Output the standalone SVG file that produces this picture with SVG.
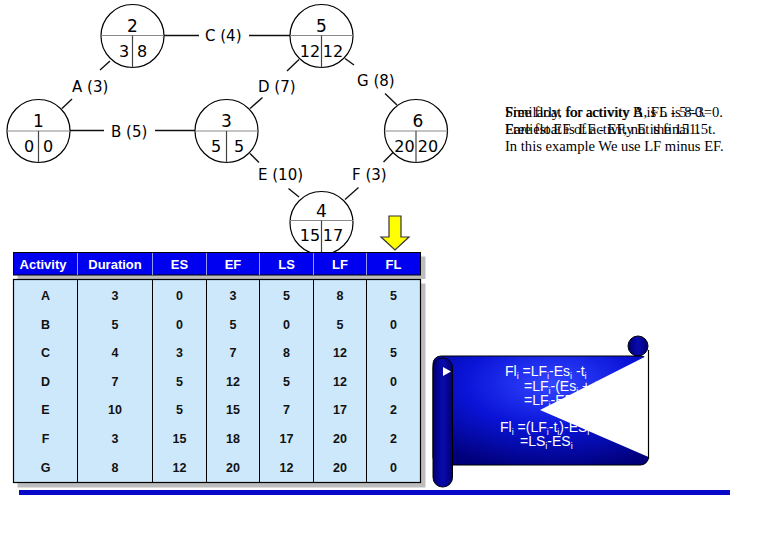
<svg xmlns="http://www.w3.org/2000/svg" width="780" height="540" viewBox="0 0 780 540">
<defs>
<style>
.nc{fill:#fff;stroke:#000;stroke-width:1.2}
.hl{stroke:#8a8a8a;stroke-width:1.2}
.vl{stroke:#444;stroke-width:1.2}
.nt{font-family:"DejaVu Sans",Verdana,sans-serif;font-size:17px;fill:#000;text-anchor:middle}
.nb{font-family:"DejaVu Sans",Verdana,sans-serif;font-size:16px;fill:#000;text-anchor:middle}
.cl{stroke:#111;stroke-width:1.4;fill:none}
.lb{font-family:"DejaVu Sans",Verdana,sans-serif;font-size:15px;fill:#000}
.th{font-family:"Liberation Sans",Arial,sans-serif;font-size:13px;font-weight:bold;fill:#fff;text-anchor:middle}
.td{font-family:"Liberation Sans",Arial,sans-serif;font-size:12.5px;font-weight:bold;fill:#111;text-anchor:middle}
.ser{font-family:"Liberation Serif","Times New Roman",serif;font-size:14.6px;fill:#000}
.sc{font-family:"Liberation Sans Narrow","Liberation Sans",Arial,sans-serif;font-size:14px;fill:#fff}
.sub{font-size:9px}
</style>
<radialGradient id="sg" cx="0.55" cy="0.25" r="0.8">
<stop offset="0" stop-color="#3346ff"/>
<stop offset="0.5" stop-color="#0a14d8"/>
<stop offset="1" stop-color="#00007a"/>
</radialGradient>
<linearGradient id="rg" x1="0" y1="0" x2="1" y2="0">
<stop offset="0" stop-color="#000070"/>
<stop offset="0.5" stop-color="#0a0ab0"/>
<stop offset="1" stop-color="#000070"/>
</linearGradient>
</defs>
<rect width="780" height="540" fill="#fff"/>

<g id="connectors">
<line class="cl" x1="62" y1="108.5" x2="72" y2="99"/>
<line class="cl" x1="100" y1="70" x2="110" y2="61"/>
<text class="lb" x="72" y="92">A (3)</text>
<line class="cl" x1="163" y1="35.5" x2="199" y2="35.5"/>
<line class="cl" x1="249" y1="35.5" x2="290" y2="35.5"/>
<text class="lb" x="205" y="41">C (4)</text>
<line class="cl" x1="70" y1="130.5" x2="104" y2="130.5"/>
<line class="cl" x1="155" y1="130.5" x2="195" y2="130.5"/>
<text class="lb" x="111" y="137">B (5)</text>
<line class="cl" x1="250" y1="108.5" x2="262.5" y2="97.5"/>
<line class="cl" x1="287" y1="71" x2="299" y2="59.5"/>
<text class="lb" x="258" y="92">D (7)</text>
<line class="cl" x1="345" y1="58.5" x2="354" y2="65"/>
<line class="cl" x1="385" y1="93.5" x2="397" y2="105"/>
<text class="lb" x="357" y="86">G (8)</text>
<line class="cl" x1="250" y1="153.5" x2="259" y2="162.5"/>
<line class="cl" x1="288.5" y1="188.5" x2="299" y2="197"/>
<text class="lb" x="258" y="180">E (10)</text>
<line class="cl" x1="345" y1="199.5" x2="358.5" y2="187.5"/>
<line class="cl" x1="383.5" y1="162" x2="393.5" y2="152"/>
<text class="lb" x="352" y="180">F (3)</text>
</g>

<g id="node1">
<circle class="nc" cx="38.5" cy="131" r="31.5"/>
<line class="hl" x1="7" y1="131" x2="70" y2="131"/>
<line class="vl" x1="38.5" y1="131" x2="38.5" y2="162.5"/>
<text class="nt" x="38.5" y="127">1</text>
<text class="nb" x="29" y="152">0</text>
<text class="nb" x="48" y="152">0</text>
</g>
<g id="node2">
<circle class="nc" cx="132.5" cy="36" r="31.5"/>
<line class="hl" x1="101" y1="35.5" x2="164" y2="35.5"/>
<line class="vl" x1="132.5" y1="35.5" x2="132.5" y2="67.5"/>
<text class="nt" x="132.5" y="32">2</text>
<text class="nb" x="124" y="56.5">3</text>
<text class="nb" x="142" y="56.5">8</text>
</g>
<g id="node5">
<circle class="nc" cx="321.5" cy="36" r="31.5"/>
<line class="hl" x1="290" y1="35.5" x2="353" y2="35.5"/>
<line class="vl" x1="321.5" y1="35.5" x2="321.5" y2="67.5"/>
<text class="nt" x="321.5" y="32">5</text>
<text class="nb" x="310" y="56.5">12</text>
<text class="nb" x="333" y="56.5">12</text>
</g>
<g id="node3">
<circle class="nc" cx="226.5" cy="131" r="31.5"/>
<line class="hl" x1="195" y1="131" x2="258" y2="131"/>
<line class="vl" x1="226.5" y1="131" x2="226.5" y2="162.5"/>
<text class="nt" x="226.5" y="127">3</text>
<text class="nb" x="216" y="152">5</text>
<text class="nb" x="239" y="152">5</text>
</g>
<g id="node6">
<circle class="nc" cx="416" cy="131" r="31.5"/>
<line class="hl" x1="384.5" y1="131" x2="447.5" y2="131"/>
<line class="vl" x1="416" y1="131" x2="416" y2="162.5"/>
<text class="nt" x="418" y="127">6</text>
<text class="nb" x="404.5" y="152">20</text>
<text class="nb" x="428" y="152">20</text>
</g>
<g id="node4">
<circle class="nc" cx="321.5" cy="223" r="31.5"/>
<line class="hl" x1="290" y1="220.5" x2="353" y2="220.5"/>
<line class="vl" x1="321.5" y1="220.5" x2="321.5" y2="254.5"/>
<text class="nt" x="321.5" y="217">4</text>
<text class="nb" x="310" y="241">15</text>
<text class="nb" x="333" y="241">17</text>
</g>

<g id="note">
<text class="ser" x="505" y="117">Free float for activity B is 5 - 5=0.</text>
<text class="ser" x="505" y="117">Similarly, for activity A, FL is 8-3=0.</text>
<text class="ser" x="505" y="134">Earliest EF of activity E is final 15t.</text>
<text class="ser" x="505" y="134">Free float is LF - EF, not the 151.</text>
<text class="ser" x="505" y="151">In this example We use LF minus EF.</text>
</g>

<g id="arrow">
<polygon points="389,216 401,216 401,237 409,237 395,250 381,237 389,237" fill="#ffff00" stroke="#333" stroke-width="1.2"/>
</g>

<g id="table">
<rect x="17.5" y="256.5" width="408" height="22.5" fill="#bdbdbd"/>
<rect x="17.5" y="283.5" width="408" height="204" fill="#bdbdbd"/>
<rect x="13.5" y="252.5" width="407" height="22.5" fill="#0000f0" stroke="#000" stroke-width="1"/>
<rect x="13.5" y="279.5" width="407" height="203" fill="#cde8fb" stroke="#000" stroke-width="1.2"/>
<g stroke="#fff" stroke-width="1" opacity="0.6">
<line x1="77.5" y1="253" x2="77.5" y2="275"/>
<line x1="152.5" y1="253" x2="152.5" y2="275"/>
<line x1="206.5" y1="253" x2="206.5" y2="275"/>
<line x1="259.5" y1="253" x2="259.5" y2="275"/>
<line x1="313.5" y1="253" x2="313.5" y2="275"/>
<line x1="366.5" y1="253" x2="366.5" y2="275"/>
</g>
<g stroke="#000" stroke-width="1">
<line x1="77.5" y1="279.5" x2="77.5" y2="482.5"/>
<line x1="152.5" y1="279.5" x2="152.5" y2="482.5"/>
<line x1="206.5" y1="279.5" x2="206.5" y2="482.5"/>
<line x1="259.5" y1="279.5" x2="259.5" y2="482.5"/>
<line x1="313.5" y1="279.5" x2="313.5" y2="482.5"/>
<line x1="366.5" y1="279.5" x2="366.5" y2="482.5"/>
</g>
<text class="th" x="43" y="269">Activity</text>
<text class="th" x="115" y="269">Duration</text>
<text class="th" x="179.5" y="269">ES</text>
<text class="th" x="233" y="269">EF</text>
<text class="th" x="286.5" y="269">LS</text>
<text class="th" x="340" y="269">LF</text>
<text class="th" x="393.5" y="269">FL</text>

<text class="td" x="45.5" y="300">A</text><text class="td" x="115" y="300">3</text><text class="td" x="179.5" y="300">0</text><text class="td" x="233" y="300">3</text><text class="td" x="286.5" y="300">5</text><text class="td" x="340" y="300">8</text><text class="td" x="393.5" y="300">5</text>
<text class="td" x="45.5" y="328.6">B</text><text class="td" x="115" y="328.6">5</text><text class="td" x="179.5" y="328.6">0</text><text class="td" x="233" y="328.6">5</text><text class="td" x="286.5" y="328.6">0</text><text class="td" x="340" y="328.6">5</text><text class="td" x="393.5" y="328.6">0</text>
<text class="td" x="45.5" y="357.2">C</text><text class="td" x="115" y="357.2">4</text><text class="td" x="179.5" y="357.2">3</text><text class="td" x="233" y="357.2">7</text><text class="td" x="286.5" y="357.2">8</text><text class="td" x="340" y="357.2">12</text><text class="td" x="393.5" y="357.2">5</text>
<text class="td" x="45.5" y="385.8">D</text><text class="td" x="115" y="385.8">7</text><text class="td" x="179.5" y="385.8">5</text><text class="td" x="233" y="385.8">12</text><text class="td" x="286.5" y="385.8">5</text><text class="td" x="340" y="385.8">12</text><text class="td" x="393.5" y="385.8">0</text>
<text class="td" x="45.5" y="414.4">E</text><text class="td" x="115" y="414.4">10</text><text class="td" x="179.5" y="414.4">5</text><text class="td" x="233" y="414.4">15</text><text class="td" x="286.5" y="414.4">7</text><text class="td" x="340" y="414.4">17</text><text class="td" x="393.5" y="414.4">2</text>
<text class="td" x="45.5" y="443">F</text><text class="td" x="115" y="443">3</text><text class="td" x="179.5" y="443">15</text><text class="td" x="233" y="443">18</text><text class="td" x="286.5" y="443">17</text><text class="td" x="340" y="443">20</text><text class="td" x="393.5" y="443">2</text>
<text class="td" x="45.5" y="471.6">G</text><text class="td" x="115" y="471.6">8</text><text class="td" x="179.5" y="471.6">12</text><text class="td" x="233" y="471.6">20</text><text class="td" x="286.5" y="471.6">12</text><text class="td" x="340" y="471.6">20</text><text class="td" x="393.5" y="471.6">0</text>
</g>

<rect x="19" y="490" width="711" height="5" fill="#0808c8"/>

<g id="scroll">
<circle cx="638" cy="346" r="10" fill="url(#rg)" stroke="#000" stroke-width="1"/>
<rect x="433" y="356" width="215.5" height="109" rx="8" fill="url(#sg)" stroke="#000" stroke-width="1"/>
<text class="sc" x="505" y="376">Fl<tspan class="sub" dy="3">i</tspan><tspan dy="-3"> =LF</tspan><tspan class="sub" dy="3">i</tspan><tspan dy="-3">-Es</tspan><tspan class="sub" dy="3">i</tspan><tspan dy="-3"> -t</tspan><tspan class="sub" dy="3">i</tspan></text>
<text class="sc" x="524" y="391">=LF<tspan class="sub" dy="3">i</tspan><tspan dy="-3">-(Es</tspan><tspan class="sub" dy="3">i</tspan><tspan dy="-3"> + t</tspan><tspan class="sub" dy="3">i</tspan><tspan dy="-3">)</tspan></text>
<text class="sc" x="524" y="405">=LF<tspan class="sub" dy="3">i</tspan><tspan dy="-3">-EF</tspan><tspan class="sub" dy="3">i</tspan></text>
<text class="sc" x="500" y="431.5">Fl<tspan class="sub" dy="3">i</tspan><tspan dy="-3"> =(LF</tspan><tspan class="sub" dy="3">i</tspan><tspan dy="-3">-t</tspan><tspan class="sub" dy="3">i</tspan><tspan dy="-3">)-ES</tspan><tspan class="sub" dy="3">i</tspan></text>
<text class="sc" x="520" y="445.5">=LS<tspan class="sub" dy="3">i</tspan><tspan dy="-3">-ES</tspan><tspan class="sub" dy="3">i</tspan></text>
<polygon points="540,410 648.5,355 648.5,457" fill="#fff"/>
<line x1="648.5" y1="350" x2="648.5" y2="459" stroke="#000" stroke-width="1.2"/>
<rect x="433" y="358" width="19.5" height="129" rx="9.5" fill="url(#rg)" stroke="#000" stroke-width="1"/>
<polygon points="443,367 451,371.5 443,376" fill="#fff"/>
</g>
</svg>
